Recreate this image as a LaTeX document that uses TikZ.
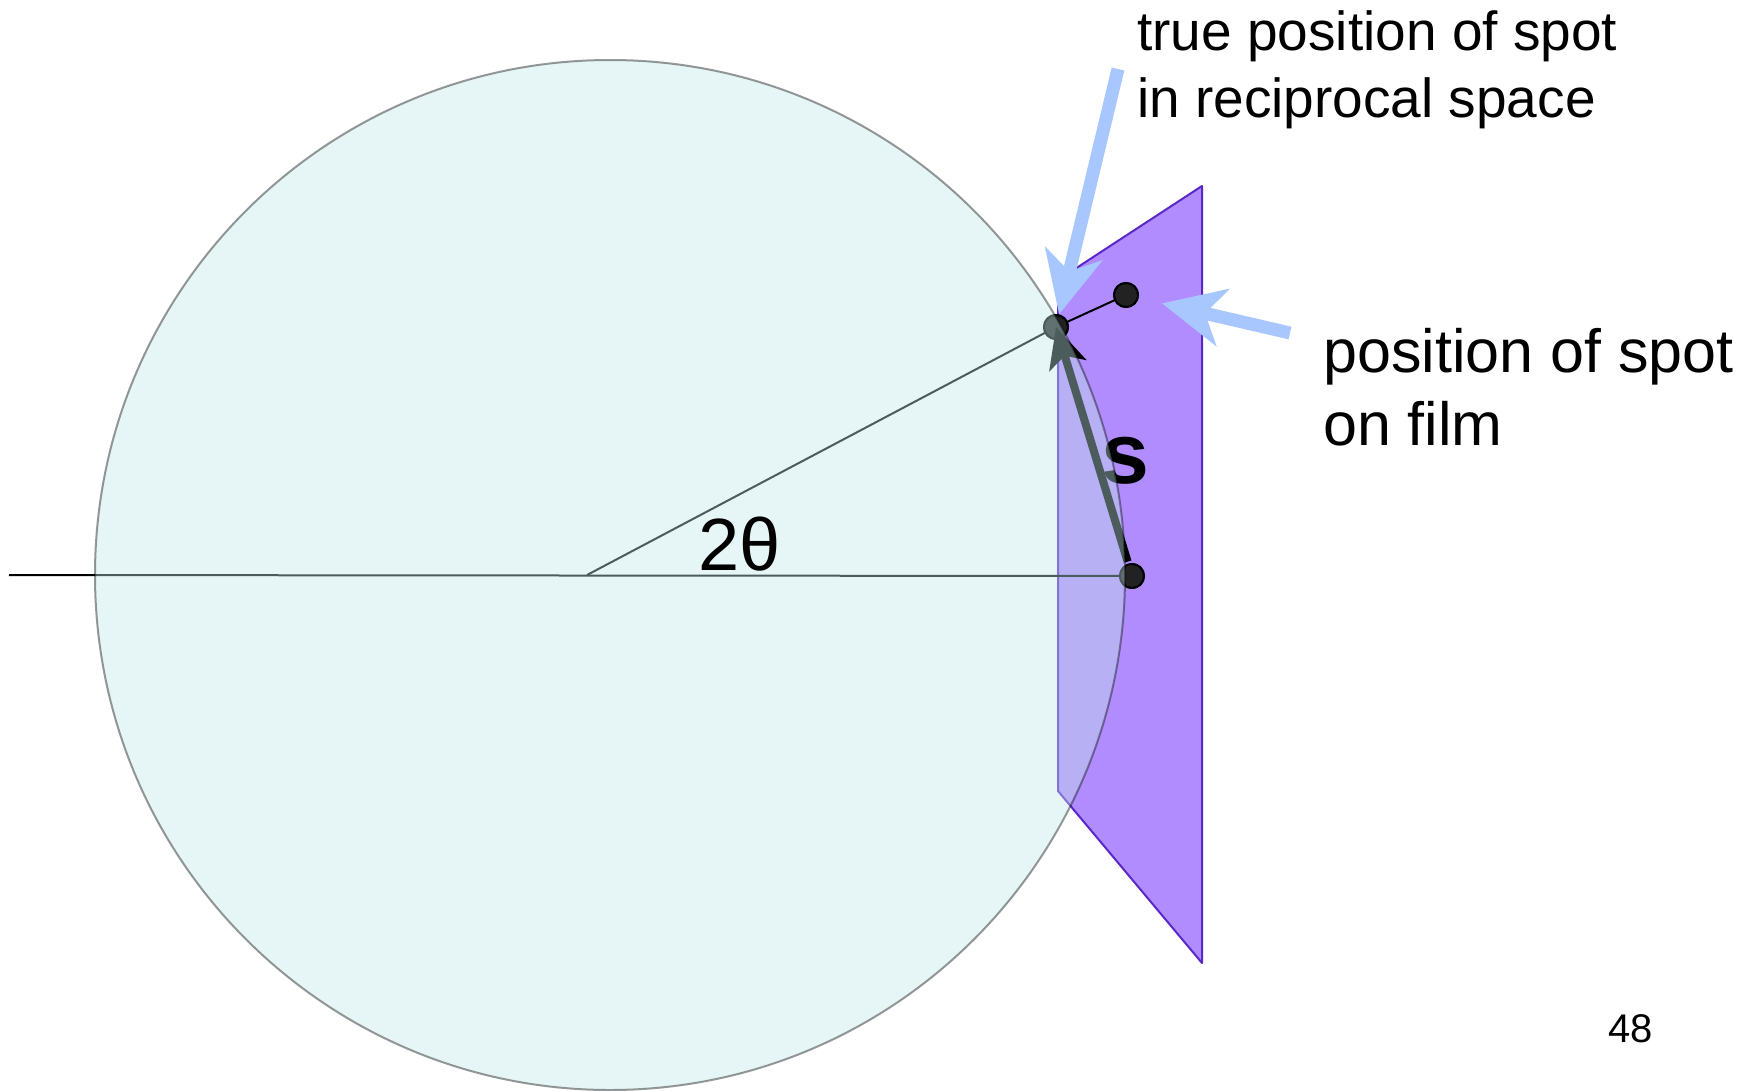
\documentclass[tikz,border=0pt]{standalone}
\usepackage{fontspec}
\setmainfont{Liberation Sans}
\usetikzlibrary{arrows.meta}
\definecolor{filmfill}{RGB}{177,140,255}
\definecolor{filmline}{RGB}{90,40,200}
\definecolor{sphere}{RGB}{192,230,230}
\definecolor{pointer}{RGB}{169,199,255}
\definecolor{dotfill}{RGB}{34,34,34}
\begin{document}
\begin{tikzpicture}[x=1pt,y=-1pt,
  spot/.style={circle,draw=black,line width=2pt,fill=dotfill,minimum size=24pt,inner sep=0pt},
  thinline/.style={draw=black,line width=2pt},
  pointerarrow/.style={draw=pointer,line width=13pt,-{Stealth[length=62pt,width=58pt,inset=18pt]}},
  sarrow/.style={draw=black,line width=8pt,-{Stealth[length=40pt,width=38pt,inset=10pt]}},
  lab/.style={anchor=base west,inner sep=0pt,align=left}]
\useasboundingbox (0,0) rectangle (1750,1090);
% film
\filldraw[fill=filmfill,draw=filmline,line width=2pt,line join=round]
  (1058,280) -- (1202,186) -- (1202,963) -- (1058,791) -- cycle;
% coordinates
\coordinate (beamstart) at (9,575);
\coordinate (vertex) at (587,575);
\node[spot] (bdot) at (1132,576) {};
\node[spot] (tdot) at (1056,327) {};
\node[spot] (sdot) at (1126,295) {};
% lines
\draw[thinline] (beamstart) -- (bdot.center);
\draw[thinline] (vertex) -- (tdot.center);
\draw[thinline] (tdot.center) -- (sdot.center);
\node[spot] at (bdot) {};
\node[spot] at (tdot) {};
\node[spot] at (sdot) {};
\node[inner sep=0pt,font=\fontsize{86}{100}\selectfont\bfseries] (slab) at (1125,461) {s};
\draw[sarrow,shorten <=2pt] (bdot) -- (tdot.center);
% Ewald sphere (translucent, on top)
\draw[fill=sphere,fill opacity=0.4,draw=black,draw opacity=0.4,line width=2pt] (610,575) circle[radius=515];
% angle label
\node[lab,font=\fontsize{74}{88}\selectfont] (angle) at (698,570) {2θ};
% pointer arrows
\coordinate (a1s) at (1118,69);
\coordinate (a2s) at (1290,333);
\draw[pointerarrow] (a1s) -- (tdot);
\draw[pointerarrow,shorten >=24pt] (a2s) -- (sdot);
% labels
\node[lab,font=\fontsize{55}{67}\selectfont] (truelab) at (1137,117) {true position of spot\\in reciprocal space};
\node[lab,font=\fontsize{61}{73}\selectfont] (filmlab) at (1323,445) {position of spot\\on film};
\node[lab,font=\fontsize{40}{48}\selectfont] (page) at (1608,1042) {48};
\end{tikzpicture}
\end{document}
